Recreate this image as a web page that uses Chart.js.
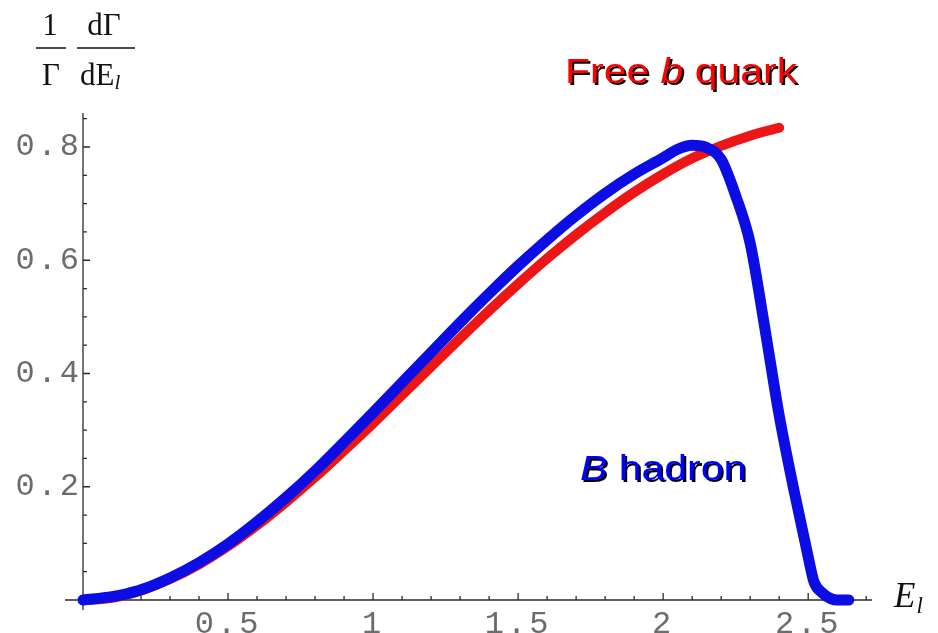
<!DOCTYPE html>
<html>
<head>
<meta charset="utf-8">
<script src="https://cdn.jsdelivr.net/npm/chart.js@4.4.0/dist/chart.umd.min.js"></script>
<style>
  html, body { margin: 0; padding: 0; background: #ffffff; }
  #plot { display: block; }
</style>
</head>
<body>
<canvas id="plot" width="938" height="633"></canvas>
<script>
// Lepton energy spectrum, free b quark (red)
const freeQuarkEnergy = [0, 0.1, 0.2, 0.3, 0.4, 0.5, 0.6, 0.7, 0.8, 0.9, 1.0, 1.1, 1.2,
  1.3, 1.4, 1.5, 1.6, 1.7, 1.8, 1.9, 2.0, 2.1, 2.2, 2.3, 2.4];
const freeQuarkRate = [0, 0.004, 0.017, 0.037, 0.063, 0.095, 0.132, 0.173, 0.217, 0.264,
  0.312, 0.362, 0.412, 0.462, 0.511, 0.558, 0.603, 0.645, 0.684, 0.720, 0.752, 0.780,
  0.802, 0.820, 0.834];

// Lepton energy spectrum, B hadron (blue)
const hadronEnergy = [0, 0.1, 0.15, 0.2, 0.3, 0.4, 0.5, 0.6, 0.7, 0.8, 0.9, 1.0, 1.1, 1.2,
  1.3, 1.4, 1.5, 1.6, 1.7, 1.8, 1.9, 2.0, 2.05, 2.1, 2.15, 2.2, 2.25, 2.3, 2.35, 2.4,
  2.45, 2.5, 2.52, 2.55, 2.58, 2.6, 2.64];
const hadronRate = [0, 0.006, 0.011, 0.018, 0.039, 0.066, 0.099, 0.138, 0.181, 0.228,
  0.279, 0.331, 0.384, 0.437, 0.490, 0.541, 0.590, 0.636, 0.679, 0.718, 0.752, 0.781,
  0.796, 0.803, 0.799, 0.778, 0.714, 0.630, 0.482, 0.326, 0.196, 0.076, 0.032, 0.012,
  0.002, 0, 0];

// Axis ranges and tick spacing
const xRange = [0, 2.72];
const yRange = [0, 0.86];
const xMajorStep = 0.5, xMinorStep = 0.1;
const yMajorStep = 0.2, yMinorStep = 0.05;

const toPoints = (xs, ys) => xs.map((v, i) => ({ x: v, y: ys[i] }));

const tickFont = { family: "'Liberation Mono', 'DejaVu Sans Mono', monospace", size: 32 };
const tickColor = '#6c6c6c';
const tickLabel = v => (Math.abs(v) < 1e-9 ? null : String(Number(v.toFixed(2))));

// Wider spacing for the typewriter-style tick numbers
const tickSpacing = {
  id: 'tickSpacing',
  beforeDraw(chart) { chart.ctx.letterSpacing = '3px'; },
  beforeDatasetsDraw(chart) { chart.ctx.letterSpacing = '0px'; }
};

// Mathematica-style axes crossing at the origin, with inward tick marks
const crossedAxes = {
  id: 'crossedAxes',
  beforeDatasetsDraw(chart) {
    const { ctx, scales: { x, y } } = chart;
    const x0 = x.getPixelForValue(0);
    const y0 = y.getPixelForValue(0);
    ctx.save();
    ctx.strokeStyle = '#2b2b2b';
    ctx.lineWidth = 1.3;
    ctx.beginPath();
    ctx.moveTo(x0 - 18, y0);
    ctx.lineTo(x.getPixelForValue(x.max), y0);
    ctx.moveTo(x0, y.getPixelForValue(y.max));
    ctx.lineTo(x0, y0 + 10);
    const xMinorPerMajor = Math.round(xMajorStep / xMinorStep);
    for (let i = 1; i * xMinorStep <= x.max + 1e-9; i++) {
      const px = x.getPixelForValue(i * xMinorStep);
      const len = i % xMinorPerMajor === 0 ? 7 : 4;
      ctx.moveTo(px, y0);
      ctx.lineTo(px, y0 - len);
    }
    const yMinorPerMajor = Math.round(yMajorStep / yMinorStep);
    for (let j = 1; j * yMinorStep <= y.max + 1e-9; j++) {
      const py = y.getPixelForValue(j * yMinorStep);
      const len = j % yMinorPerMajor === 0 ? 7 : 4;
      ctx.moveTo(x0, py);
      ctx.lineTo(x0 + len, py);
    }
    ctx.stroke();
    ctx.restore();
  }
};

// Caption text with a black drop shadow
function shadowText(ctx, parts, left, base, color, size, stretch) {
  ctx.save();
  ctx.translate(left, base);
  ctx.scale(stretch, 1);
  ctx.textBaseline = 'alphabetic';
  ctx.textAlign = 'left';
  const pass = (dx, dy, fill) => {
    let cx = 0;
    for (const p of parts) {
      ctx.font = (p.italic ? 'italic ' : '') + size + "px 'Liberation Sans', Arial, sans-serif";
      ctx.fillStyle = fill;
      ctx.fillText(p.text, cx + dx, dy);
      cx += ctx.measureText(p.text).width;
    }
  };
  pass(1.8, 2.2, '#000000');
  pass(0, 0, color);
  ctx.restore();
}

// Axis titles and curve captions
const annotations = {
  id: 'annotations',
  afterDraw(chart) {
    const ctx = chart.ctx;
    ctx.save();
    ctx.letterSpacing = '0px';
    // y-axis title: (1/Γ) dΓ/dE_l
    const serif = "'Liberation Serif', 'Times New Roman', serif";
    ctx.fillStyle = '#111111';
    ctx.strokeStyle = '#111111';
    ctx.textBaseline = 'alphabetic';
    ctx.font = '31px ' + serif;
    ctx.textAlign = 'center';
    ctx.fillText('1', 50, 35);
    ctx.fillText('\u0393', 51, 85);
    ctx.fillText('d\u0393', 104, 35);
    ctx.textAlign = 'left';
    const dE = 'dE';
    const dEw = ctx.measureText(dE).width;
    ctx.fillText(dE, 80, 85);
    ctx.font = 'italic 21px ' + serif;
    ctx.fillText('l', 80 + dEw, 89);
    ctx.lineWidth = 1.5;
    ctx.beginPath();
    ctx.moveTo(36, 48); ctx.lineTo(66, 48);
    ctx.moveTo(77, 48); ctx.lineTo(135, 48);
    ctx.stroke();

    // x-axis title: E_l
    ctx.font = 'italic 35px ' + serif;
    ctx.fillText('E', 894, 607);
    const ew = ctx.measureText('E').width;
    ctx.font = 'italic 23px ' + serif;
    ctx.fillText('l', 894 + ew + 1, 613);
    ctx.restore();

    shadowText(ctx, [{ text: 'Free ' }, { text: 'b', italic: true }, { text: ' quark' }],
      565, 83, '#ff0000', 35, 1.17);
    shadowText(ctx, [{ text: 'B', italic: true }, { text: ' hadron' }],
      580, 480, '#0000ff', 35, 1.17);
  }
};

new Chart(document.getElementById('plot'), {
  type: 'line',
  data: {
    datasets: [
      {
        label: 'B hadron',
        data: toPoints(hadronEnergy, hadronRate),
        borderColor: 'rgb(12, 12, 228)',
        borderWidth: 11,
        pointRadius: 0,
        cubicInterpolationMode: 'monotone',
        borderCapStyle: 'round',
        borderJoinStyle: 'round',
        fill: false,
        clip: false
      },
      {
        label: 'Free b quark',
        data: toPoints(freeQuarkEnergy, freeQuarkRate),
        borderColor: 'rgb(236, 22, 22)',
        borderWidth: 10,
        pointRadius: 0,
        cubicInterpolationMode: 'monotone',
        borderCapStyle: 'round',
        borderJoinStyle: 'round',
        fill: false,
        clip: false
      }
    ]
  },
  options: {
    responsive: false,
    devicePixelRatio: 1,
    animation: false,
    layout: { padding: { top: 113, right: 66, left: 0, bottom: 0 } },
    plugins: { legend: { display: false }, tooltip: { enabled: false } },
    scales: {
      x: {
        type: 'linear',
        min: xRange[0],
        max: xRange[1],
        border: { display: false },
        grid: { display: false, drawTicks: false },
        ticks: {
          stepSize: xMajorStep,
          includeBounds: false,
          autoSkip: false,
          maxRotation: 0,
          padding: 5,
          font: tickFont,
          color: tickColor,
          callback: tickLabel
        },
        afterFit(scale) { scale.height = 33; }
      },
      y: {
        type: 'linear',
        min: yRange[0],
        max: yRange[1],
        border: { display: false },
        grid: { display: false, drawTicks: false },
        ticks: {
          stepSize: yMajorStep,
          includeBounds: false,
          autoSkip: false,
          padding: 1,
          font: tickFont,
          color: tickColor,
          callback: tickLabel
        },
        afterFit(scale) { scale.width = 83; }
      }
    }
  },
  plugins: [tickSpacing, crossedAxes, annotations]
});
</script>
</body>
</html>
